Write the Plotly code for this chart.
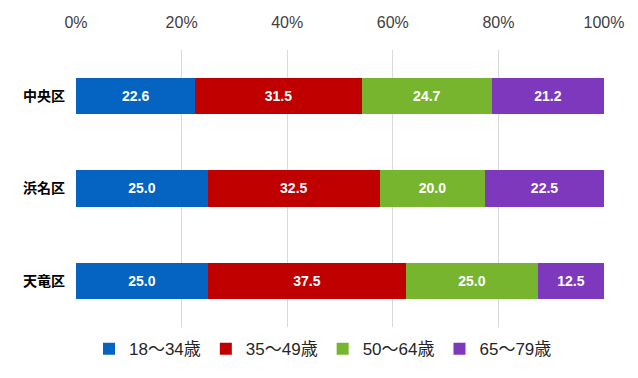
import plotly.graph_objects as go

categories = ["中央区", "浜名区", "天竜区"]
series_names = ["18～34歳", "35～49歳", "50～64歳", "65～79歳"]
values = {
    "18～34歳": [22.6, 25.0, 25.0],
    "35～49歳": [31.5, 32.5, 37.5],
    "50～64歳": [24.7, 20.0, 25.0],
    "65～79歳": [21.2, 22.5, 12.5],
}
colors = ["#0563C1", "#C00000", "#77B52E", "#7E38BD"]
tick_vals = [0, 20, 40, 60, 80, 100]
tick_text = ["0%", "20%", "40%", "60%", "80%", "100%"]

font_family = "Liberation Sans, Noto Sans CJK JP, sans-serif"

fig = go.Figure()
for name, col in zip(series_names, colors):
    vals = values[name]
    fig.add_trace(go.Bar(
        y=categories, x=vals, name=name, orientation="h",
        marker=dict(color=col, line=dict(width=0)),
        text=[f"{v:.1f}" for v in vals], textposition="inside",
        insidetextanchor="middle",
        textfont=dict(color="white", size=14, family=font_family, weight="bold"),
        hoverinfo="skip",
    ))

# page body has an 8px default margin; size the figure to fit the window
fig.update_layout(
    barmode="stack", bargap=0.61,
    width=630, height=370,
    margin=dict(l=68, r=34, t=42, b=51, autoexpand=False),
    paper_bgcolor="white", plot_bgcolor="white",
    font=dict(family=font_family, size=14, color="#404040"),
    uniformtext=dict(mode="show", minsize=14),
    legend=dict(orientation="h", xref="container", x=0.5, xanchor="center",
                y=-0.015, yanchor="top",
                font=dict(size=17, color="#262626"), itemwidth=30, traceorder="normal"),
    xaxis=dict(side="top", range=[0, 100], tickvals=tick_vals, ticktext=tick_text,
               showgrid=True, gridcolor="#D9D9D9", gridwidth=1, zeroline=False,
               showline=False, ticks="", ticklabelstandoff=18, automargin=False,
               tickfont=dict(size=16, color="#404040")),
    yaxis=dict(autorange="reversed", showgrid=False, showline=False, ticks="",
               ticklabelstandoff=10, automargin=False,
               tickfont=dict(size=14, color="#000000", weight="bold")),
)

fig.write_html("out.html")
